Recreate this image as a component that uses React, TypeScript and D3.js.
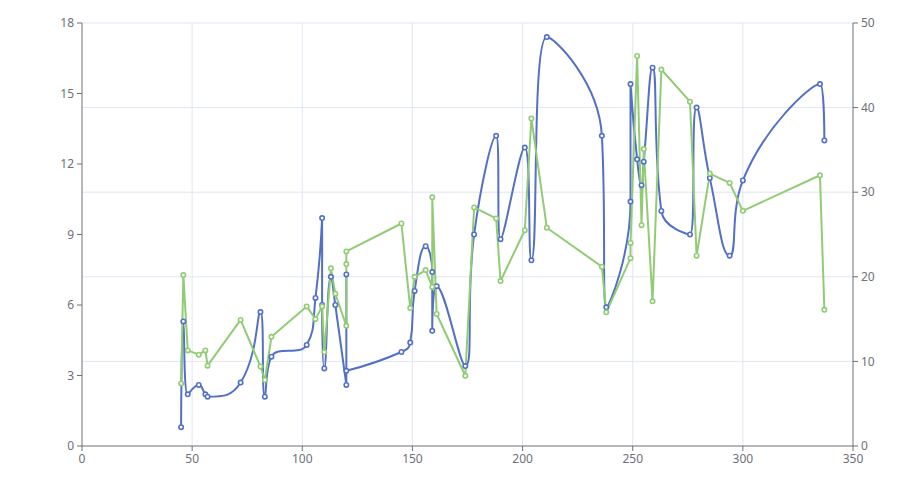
import React from "react";
import * as d3 from "d3";

const xValuesBlue = [45, 46, 48, 53, 56, 57, 72, 81, 83, 86, 102, 106, 109, 109, 110, 113, 115, 120, 120, 120, 145, 149, 151, 156, 159, 159, 161, 174, 178, 188, 190, 201, 204, 211, 236, 238, 249, 249, 252, 254, 255, 259, 263, 276, 279, 285, 294, 300, 335, 337];
const yValuesBlue = [0.8, 5.3, 2.2, 2.6, 2.2, 2.1, 2.7, 5.7, 2.1, 3.8, 4.3, 6.3, 9.7, 6.0, 3.3, 7.2, 6.0, 2.6, 7.3, 3.2, 4.0, 4.4, 6.6, 8.5, 7.4, 4.9, 6.8, 3.4, 9.0, 13.2, 8.8, 12.7, 7.9, 17.4, 13.2, 5.9, 10.4, 15.4, 12.2, 11.1, 12.1, 16.1, 10.0, 9.0, 14.4, 11.4, 8.1, 11.3, 15.4, 13.0];

const xValuesGreen = [45, 46, 48, 53, 56, 57, 72, 81, 83, 86, 102, 106, 109, 110, 113, 115, 120, 120, 120, 145, 149, 151, 156, 159, 159, 161, 174, 178, 188, 190, 201, 204, 211, 236, 238, 249, 249, 252, 254, 255, 259, 263, 276, 279, 285, 294, 300, 335, 337];
const yValuesGreen = [7.4, 20.2, 11.3, 10.8, 11.3, 9.5, 14.9, 9.4, 7.8, 12.9, 16.5, 15.0, 16.5, 11.1, 21.0, 18.0, 14.2, 21.5, 23.0, 26.3, 16.3, 20.0, 20.8, 18.8, 29.4, 15.6, 8.3, 28.2, 26.9, 19.5, 25.5, 38.7, 25.8, 21.2, 15.8, 22.2, 24.0, 46.1, 26.1, 35.1, 17.1, 44.5, 40.7, 22.5, 32.2, 31.1, 27.8, 32.0, 16.1];

const xTicks = [0, 50, 100, 150, 200, 250, 300, 350];
const leftTicks = [0, 3, 6, 9, 12, 15, 18];
const rightTicks = [0, 10, 20, 30, 40, 50];

const W = 913, H = 491;
const L = 82, R = 853, T = 23, B = 446;
const AXIS = "#6E7079";
const GRID = "#E0E6F1";
const BLUE = "#5470c6";
const GREEN = "#91cc75";
const FONT = "'Noto Sans', sans-serif";

function echartsSmooth(pts: [number, number][], smooth = 0.5): string {
  const p = d3.path();
  const n = pts.length;
  let prevX = 0, prevY = 0, cpx0 = 0, cpy0 = 0, cpx1 = 0, cpy1 = 0;
  for (let k = 0; k < n; k++) {
    const [x, y] = pts[k];
    if (k === 0) {
      p.moveTo(x, y);
      cpx0 = x; cpy0 = y;
    } else {
      const dx = x - prevX, dy = y - prevY;
      if (dx * dx + dy * dy < 0.5) continue;
      let nextCpx0 = x, nextCpy0 = y;
      let nk = k + 1;
      while (nk < n && pts[nk][0] === x && pts[nk][1] === y) nk++;
      if (nk >= n) {
        cpx1 = x; cpy1 = y;
      } else {
        const [nextX, nextY] = pts[nk];
        let vx = nextX - prevX, vy = nextY - prevY;
        const dx0 = x - prevX, dx1 = nextX - x, dy0 = y - prevY, dy1 = nextY - y;
        const lenPrevSeg = Math.sqrt(dx0 * dx0 + dy0 * dy0);
        const lenNextSeg = Math.sqrt(dx1 * dx1 + dy1 * dy1);
        const ratioNextSeg = lenNextSeg / (lenNextSeg + lenPrevSeg);
        cpx1 = x - vx * smooth * (1 - ratioNextSeg);
        cpy1 = y - vy * smooth * (1 - ratioNextSeg);
        nextCpx0 = x + vx * smooth * ratioNextSeg;
        nextCpy0 = y + vy * smooth * ratioNextSeg;
        nextCpx0 = Math.min(nextCpx0, Math.max(nextX, x));
        nextCpy0 = Math.min(nextCpy0, Math.max(nextY, y));
        nextCpx0 = Math.max(nextCpx0, Math.min(nextX, x));
        nextCpy0 = Math.max(nextCpy0, Math.min(nextY, y));
        vx = nextCpx0 - x; vy = nextCpy0 - y;
        cpx1 = x - vx * lenPrevSeg / lenNextSeg;
        cpy1 = y - vy * lenPrevSeg / lenNextSeg;
        cpx1 = Math.min(cpx1, Math.max(prevX, x));
        cpy1 = Math.min(cpy1, Math.max(prevY, y));
        cpx1 = Math.max(cpx1, Math.min(prevX, x));
        cpy1 = Math.max(cpy1, Math.min(prevY, y));
        vx = x - cpx1; vy = y - cpy1;
        nextCpx0 = x + vx * lenNextSeg / lenPrevSeg;
        nextCpy0 = y + vy * lenNextSeg / lenPrevSeg;
      }
      p.bezierCurveTo(cpx0, cpy0, cpx1, cpy1, x, y);
      cpx0 = nextCpx0; cpy0 = nextCpy0;
    }
    prevX = x; prevY = y;
  }
  return p.toString();
}

export default function App() {
  const x = d3.scaleLinear().domain([0, 350]).range([L, R]);
  const yL = d3.scaleLinear().domain([0, 18]).range([B, T]);
  const yR = d3.scaleLinear().domain([0, 50]).range([B, T]);

  const bluePts: [number, number][] = xValuesBlue.map((v, i) => [x(v), yL(yValuesBlue[i])]);
  const greenPts: [number, number][] = xValuesGreen.map((v, i) => [x(v), yR(yValuesGreen[i])]);
  const greenLine = d3.line<[number, number]>().x(d => d[0]).y(d => d[1])(greenPts) || "";
  const blueLine = echartsSmooth(bluePts, 0.5);

  return (
    <svg width={W} height={H} style={{ position: "absolute", left: 0, top: 0, background: "#fff" }}>
      {rightTicks.filter(t => t !== 0).map(t => (
        <line key={"h" + t} x1={L} x2={R} y1={yR(t)} y2={yR(t)} stroke={GRID} strokeWidth={1} />
      ))}
      {xTicks.filter(t => t !== 0 && t !== 350).map(t => (
        <line key={"v" + t} x1={x(t)} x2={x(t)} y1={T} y2={B} stroke={GRID} strokeWidth={1} />
      ))}
      <line x1={L} x2={R} y1={B} y2={B} stroke={AXIS} strokeWidth={1} />
      {xTicks.map(t => (
        <g key={"xt" + t}>
          <line x1={x(t)} x2={x(t)} y1={B} y2={B + 5} stroke={AXIS} />
          <text x={x(t)} y={B + 8} dy="0.76em" textAnchor="middle" fontSize={12} fill={AXIS} fontFamily={FONT}>{t}</text>
        </g>
      ))}
      <line x1={L} x2={L} y1={T} y2={B} stroke={AXIS} strokeWidth={1} />
      {leftTicks.map(t => (
        <g key={"lt" + t}>
          <line x1={L - 5} x2={L} y1={yL(t)} y2={yL(t)} stroke={AXIS} />
          <text x={L - 8} y={yL(t)} dy="0.35em" textAnchor="end" fontSize={12} fill={AXIS} fontFamily={FONT}>{t}</text>
        </g>
      ))}
      <line x1={R} x2={R} y1={T} y2={B} stroke={AXIS} strokeWidth={1} />
      {rightTicks.map(t => (
        <g key={"rt" + t}>
          <line x1={R} x2={R + 5} y1={yR(t)} y2={yR(t)} stroke={AXIS} />
          <text x={R + 8} y={yR(t)} dy="0.35em" textAnchor="start" fontSize={12} fill={AXIS} fontFamily={FONT}>{t}</text>
        </g>
      ))}
      <path d={blueLine} fill="none" stroke={BLUE} strokeWidth={2} strokeLinejoin="bevel" />
      <path d={greenLine} fill="none" stroke={GREEN} strokeWidth={2} strokeLinejoin="bevel" />
      {bluePts.map((p, i) => (
        <circle key={"b" + i} cx={p[0]} cy={p[1]} r={2.2} fill="#fff" stroke={BLUE} strokeWidth={1.6} />
      ))}
      {greenPts.map((p, i) => (
        <circle key={"g" + i} cx={p[0]} cy={p[1]} r={2.2} fill="#fff" stroke={GREEN} strokeWidth={1.6} />
      ))}
    </svg>
  );
}
